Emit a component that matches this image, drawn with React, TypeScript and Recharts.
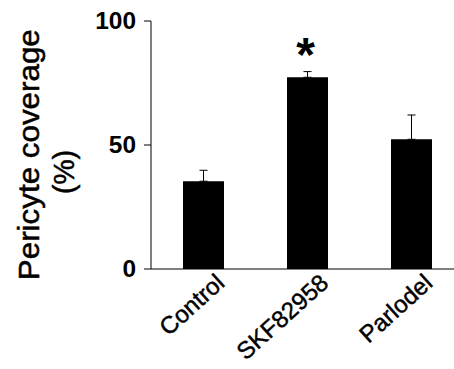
import { Bar, BarChart, ErrorBar, LabelList, XAxis, YAxis } from "recharts";

const categories = ["Control", "SKF82958", "Parlodel"];
const coverage = [35.4, 77.3, 52.3];
const sem = [4.4, 2.3, 9.8];
const marks = ["", "*", ""];
const yTicks = [0, 50, 100];

const FONT = "'Liberation Sans', Arial, sans-serif";

const data = categories.map((name, i) => ({
  name,
  coverage: coverage[i],
  err: [0, sem[i]],
  mark: marks[i],
}));

function CategoryTick({ x, y, payload }: any) {
  const tx = x + 23;
  const ty = y + 16;
  return (
    <text
      x={tx}
      y={ty}
      transform={`rotate(-42, ${tx}, ${ty})`}
      textAnchor="end"
      fontSize={24}
      fontFamily={FONT}
      fill="#000"
      stroke="#000"
      strokeWidth={0.45}
    >
      {payload.value}
    </text>
  );
}

function ValueTick({ x, y, payload }: any) {
  const label = String(payload.value);
  return (
    <text
      x={x}
      y={y}
      dy="0.36em"
      textAnchor="end"
      fontSize={23}
      fontWeight="bold"
      fontFamily={FONT}
      fill="#000"
      textLength={13.6 * label.length}
      lengthAdjust="spacingAndGlyphs"
    >
      {label}
    </text>
  );
}

function StarLabel({ x, y, width, value }: any) {
  if (!value) return null;
  return (
    <text x={x + width / 2 - 2} y={y - 6} textAnchor="middle" fontSize={48} fontWeight="bold" fontFamily={FONT} fill="#000">
      {value}
    </text>
  );
}

function AxisTitle() {
  return (
    <g fontFamily={FONT} fill="#000" stroke="#000" strokeWidth={0.5}>
      <text transform="translate(39,154.7) rotate(-90)" textAnchor="middle" fontSize={29} textLength={251} lengthAdjust="spacingAndGlyphs">
        Pericyte coverage
      </text>
      <text transform="translate(74,172) rotate(-90)" textAnchor="middle" fontSize={30} textLength={44} lengthAdjust="spacingAndGlyphs">
        (%)
      </text>
    </g>
  );
}

export default function App() {
  return (
    <div style={{ position: "absolute", left: 0, top: 0, background: "#fff" }}>
      <BarChart width={470} height={369} data={data} margin={{ top: 21, right: 7, left: 0, bottom: 0 }} barSize={41}>
        <XAxis
          dataKey="name"
          height={100}
          tickLine={false}
          tickSize={0}
          tickMargin={0}
          interval={0}
          axisLine={{ stroke: "#000", strokeWidth: 1 }}
          tick={<CategoryTick />}
        />
        <YAxis
          width={151}
          domain={[0, 100]}
          ticks={yTicks}
          tickSize={7}
          tickMargin={8}
          axisLine={{ stroke: "#000", strokeWidth: 1 }}
          tickLine={{ stroke: "#000", strokeWidth: 1 }}
          tick={<ValueTick />}
          label={{ content: () => <AxisTitle /> }}
        />
        <Bar dataKey="coverage" fill="#000" isAnimationActive={false}>
          <ErrorBar dataKey="err" direction="y" width={4} stroke="#000" strokeWidth={1} />
          <LabelList dataKey="mark" content={<StarLabel />} />
        </Bar>
      </BarChart>
    </div>
  );
}
